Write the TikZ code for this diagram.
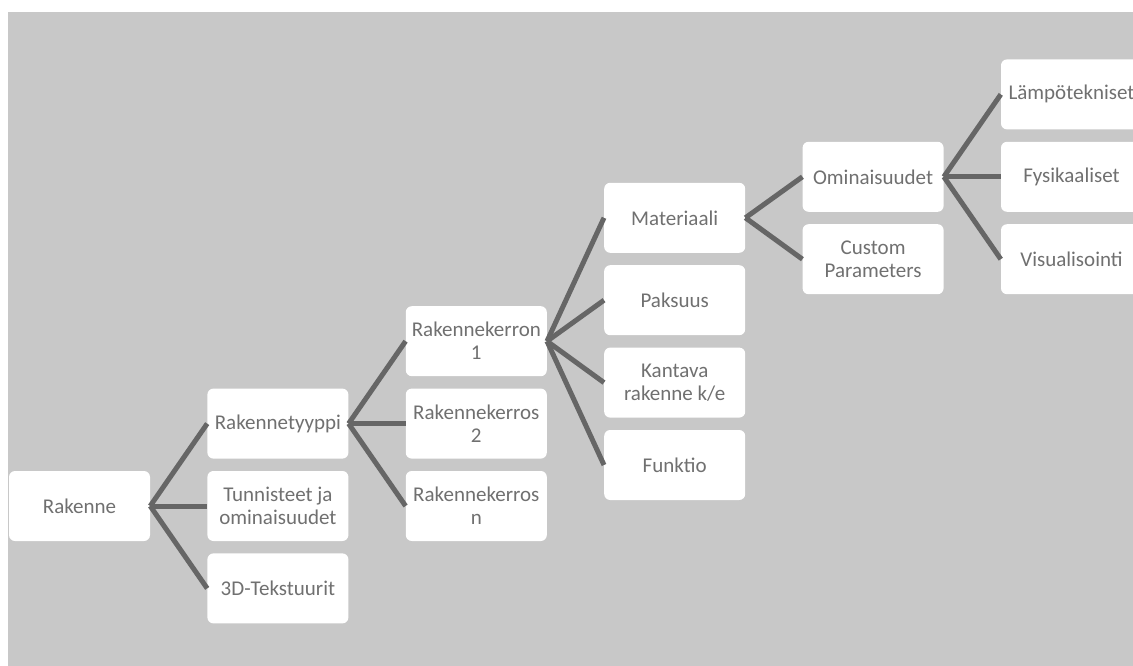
\documentclass[tikz,border=0pt]{standalone}
\usepackage{fontspec}
\setmainfont{Carlito}
\usepackage{xcolor}
\usetikzlibrary{positioning}

\definecolor{bggrey}{RGB}{200,200,200}
\definecolor{linkgrey}{RGB}{102,102,102}
\definecolor{textgrey}{RGB}{112,112,112}

\tikzset{
  box/.style={fill=white, rounded corners=6pt, minimum width=141pt, minimum height=70pt,
    inner xsep=1pt, inner ysep=2pt, align=center, text=textgrey,
    font=\fontsize{21}{23}\selectfont},
  link/.style={draw=linkgrey, line width=5pt}
}

\begin{document}
\begin{tikzpicture}[x=1pt, y=1pt, node distance=12pt and 57pt]
		\useasboundingbox (0,0) rectangle (1133,-666);
		\fill[bggrey] (8,-12) rectangle (1133,-666);
		% level 0 and 1
		\node[box] (rakenne) at (79.5,-506) {Rakenne};
		\node[box, right=of rakenne] (tunnisteet) {Tunnisteet ja\\ominaisuudet};
		\node[box, above=of tunnisteet] (tyyppi) {Rakennetyyppi};
		\node[box, below=of tunnisteet] (tekstuurit) {3D-Tekstuurit};
		% layers
		\node[box, right=of tyyppi] (kerros2) {Rakennekerros\\2};
		\node[box, above=of kerros2] (kerros1) {Rakennekerron\\1};
		\node[box, below=of kerros2] (kerrosn) {Rakennekerros\\n};
		% layer properties
		\node[box, right=of kerros1, yshift=41pt] (paksuus) {Paksuus};
		\node[box, above=of paksuus] (materiaali) {Materiaali};
		\node[box, below=of paksuus] (kantava) {Kantava\\rakenne k/e};
		\node[box, below=of kantava] (funktio) {Funktio};
		% material
		\node[box, right=of materiaali, yshift=41pt] (omin) {Ominaisuudet};
		\node[box, below=of omin] (custom) {Custom\\Parameters};
		\node[box, right=of omin] (fysik) {Fysikaaliset};
		\node[box, above=of fysik] (lampo) {Lämpötekniset};
		\node[box, below=of fysik] (visual) {Visualisointi};
		% connectors
		\foreach \c in {tyyppi, tunnisteet, tekstuurit}
			\draw[link] (rakenne.east) -- (\c.west);
		\foreach \c in {kerros1, kerros2, kerrosn}
			\draw[link] (tyyppi.east) -- (\c.west);
		\foreach \c in {materiaali, paksuus, kantava, funktio}
			\draw[link] (kerros1.east) -- (\c.west);
		\foreach \c in {omin, custom}
			\draw[link] (materiaali.east) -- (\c.west);
		\foreach \c in {lampo, fysik, visual}
			\draw[link] (omin.east) -- (\c.west);
	\end{tikzpicture}
\end{document}
